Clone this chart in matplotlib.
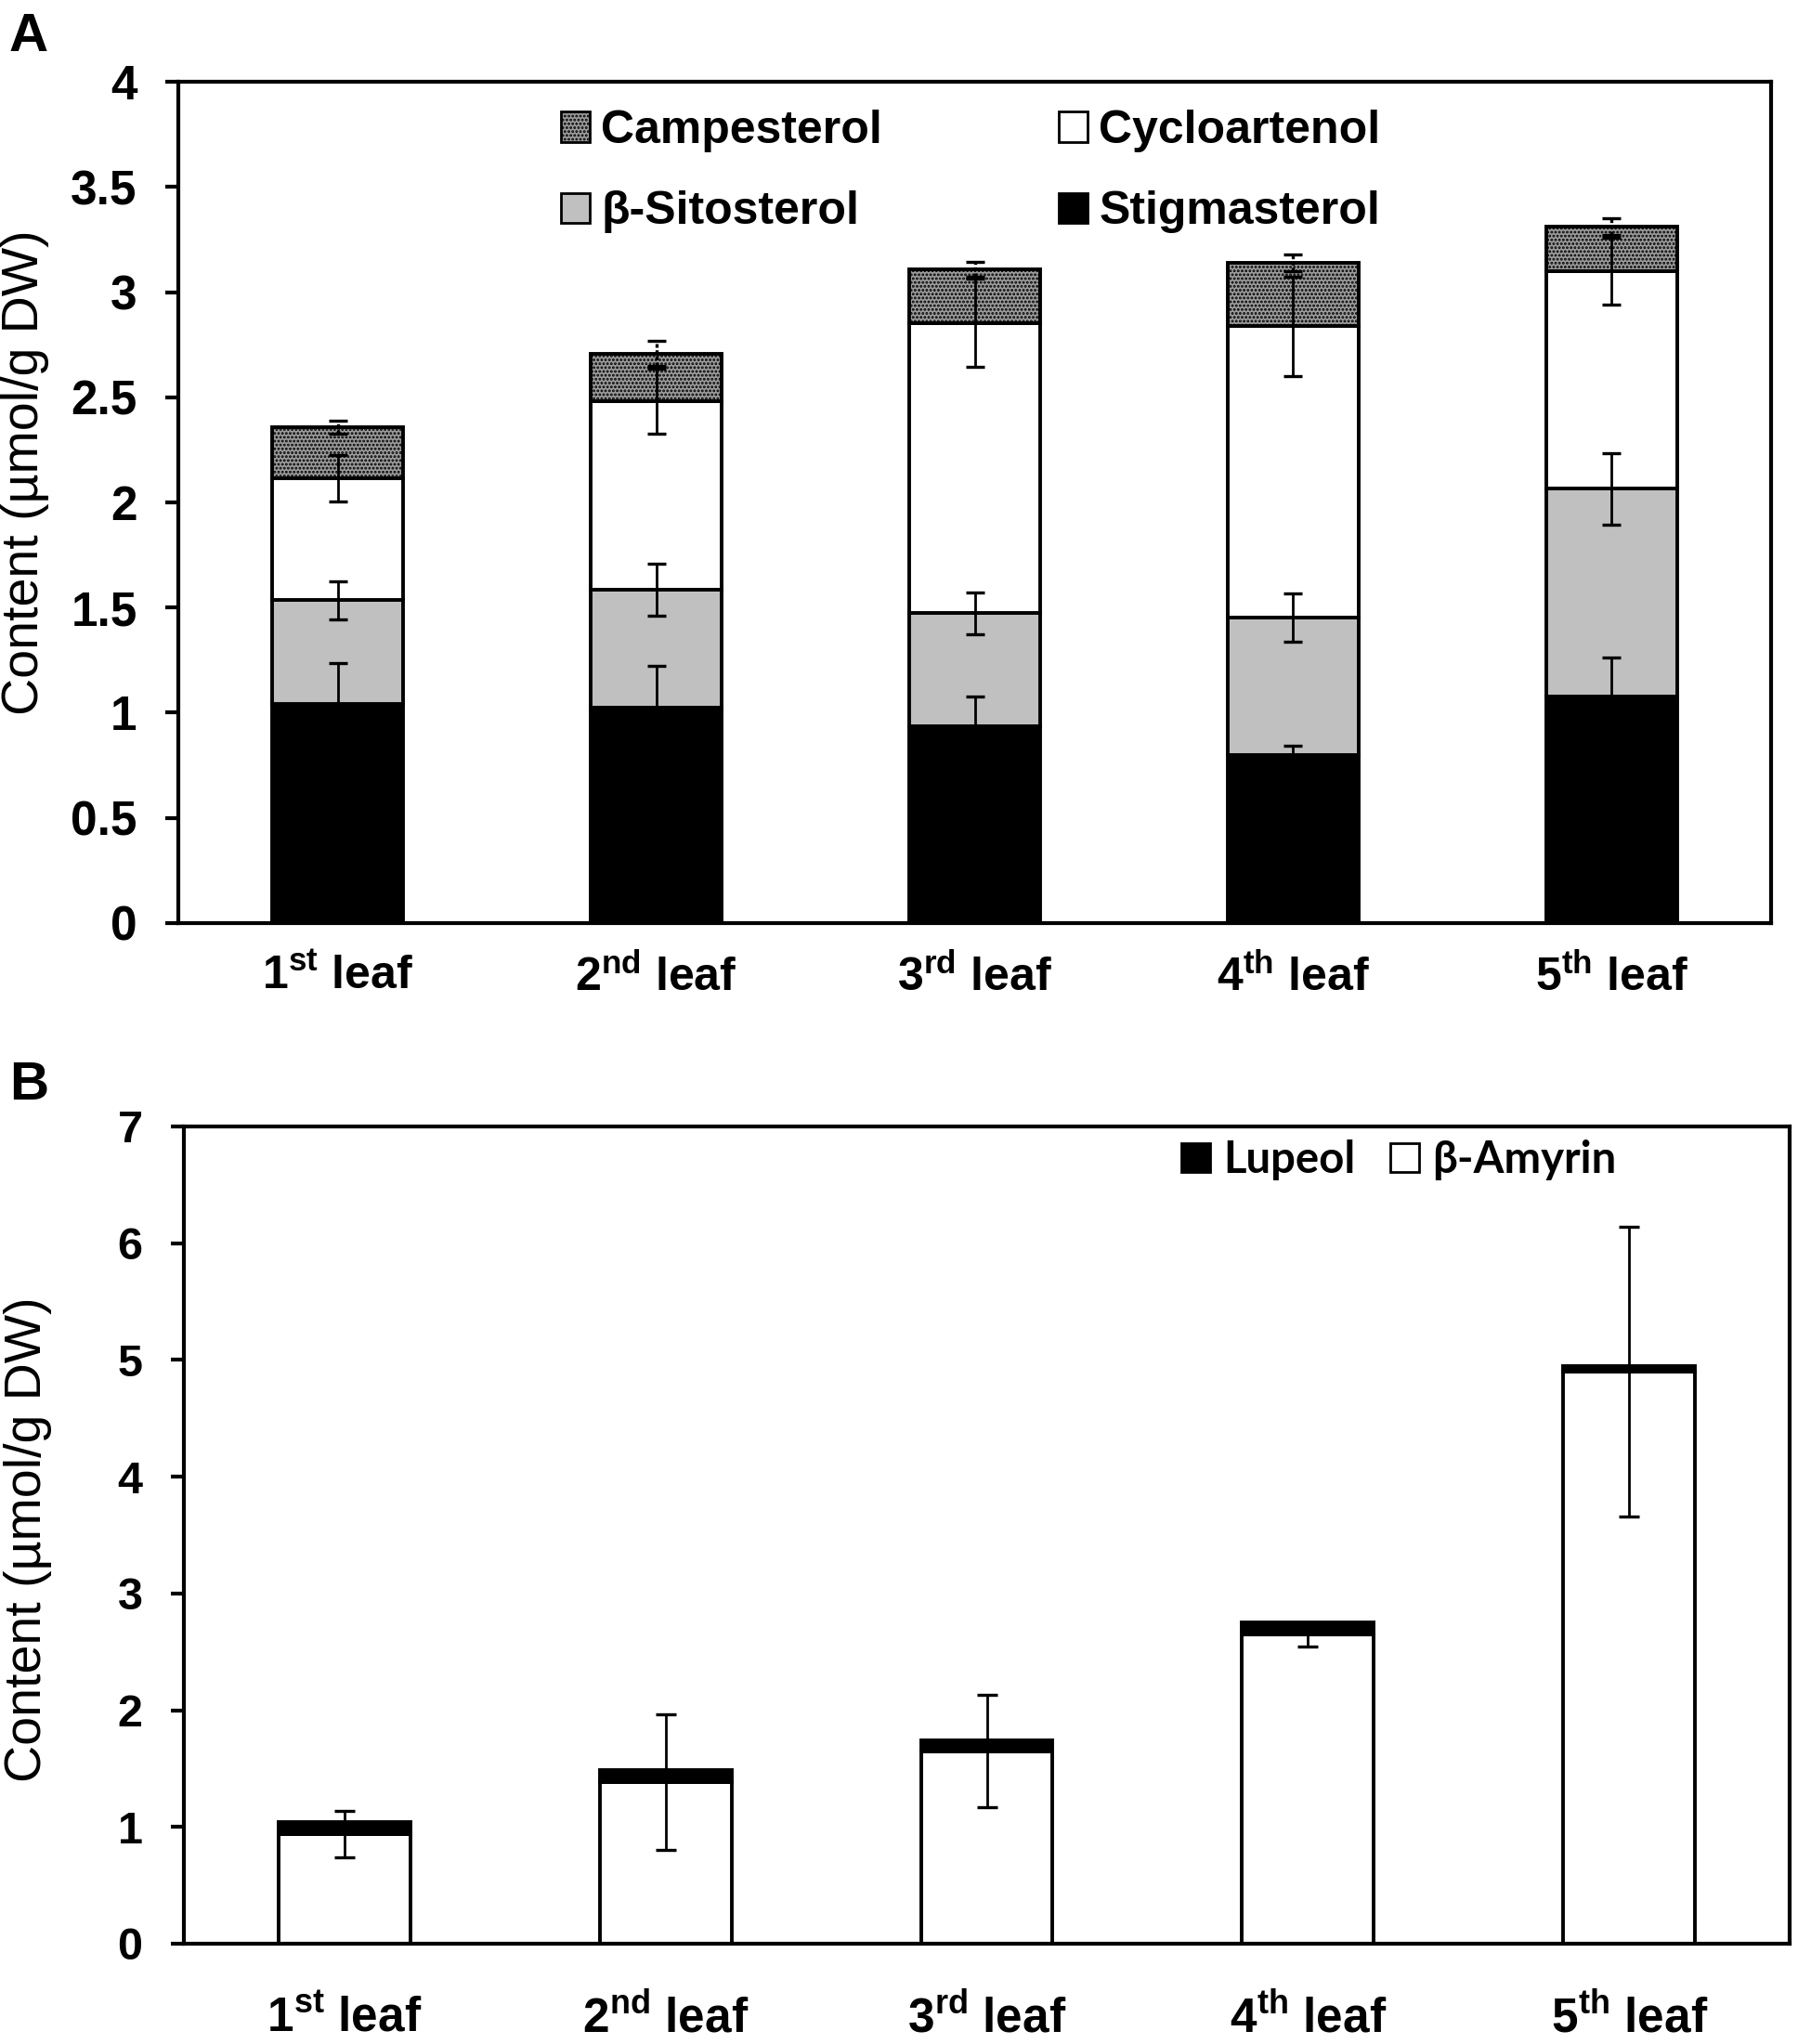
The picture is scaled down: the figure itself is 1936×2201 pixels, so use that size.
import matplotlib
matplotlib.use('Agg')
import matplotlib.pyplot as plt
import numpy as np
from matplotlib.patches import Patch

plt.rcParams['font.family'] = ['Liberation Sans', 'DejaVu Sans']
plt.rcParams['hatch.linewidth'] = 1.4

# ---------------- data ----------------
leaves = [r'1$^{\mathdefault{st}}$ leaf', r'2$^{\mathdefault{nd}}$ leaf',
          r'3$^{\mathdefault{rd}}$ leaf', r'4$^{\mathdefault{th}}$ leaf',
          r'5$^{\mathdefault{th}}$ leaf']

stigmasterol = [1.04, 1.023, 0.936, 0.797, 1.076]
stigmasterol_err = [0.195, 0.20, 0.14, 0.045, 0.186]
sitosterol = [0.495, 0.562, 0.537, 0.657, 0.989]
sitosterol_err = [0.09, 0.125, 0.10, 0.115, 0.17]
cycloartenol = [0.58, 0.895, 1.38, 1.383, 1.035]
cycloartenol_err = [0.11, 0.155, 0.21, 0.235, 0.16]
campesterol = [0.242, 0.227, 0.257, 0.303, 0.21]
campesterol_err = [0.03, 0.06, 0.035, 0.04, 0.04]

amyrin = [0.94, 1.385, 1.65, 2.645, 4.90]
amyrin_err = [0.20, 0.58, 0.48, 0.10, 1.24]
lupeol = [0.105, 0.105, 0.09, 0.11, 0.045]

a_ticks = [0, 0.5, 1, 1.5, 2, 2.5, 3, 3.5, 4]
a_ticklabels = ['0', '0.5', '1', '1.5', '2', '2.5', '3', '3.5', '4']
b_ticks = [0, 1, 2, 3, 4, 5, 6, 7]
b_ticklabels = ['0', '1', '2', '3', '4', '5', '6', '7']

ylabel = 'Content (µmol/g DW)'

# ---------------- figure ----------------
fig = plt.figure(figsize=(19.36, 22.01), dpi=100)
axA = fig.add_axes([0.0992, 0.5484, 0.8858, 0.4116])
axB = fig.add_axes([0.1023, 0.0491, 0.8931, 0.3998])

x = np.arange(len(leaves))
bw = 0.41
elw = 2.8
camp_color = '#9c9c9c'

s1 = np.array(stigmasterol)
s2 = s1 + np.array(sitosterol)
s3 = s2 + np.array(cycloartenol)
s4 = s3 + np.array(campesterol)

axA.bar(x, stigmasterol, width=bw, color='black', edgecolor='black', linewidth=elw, zorder=2)
axA.bar(x, sitosterol, bottom=s1, width=bw, color='#c0c0c0', edgecolor='black', linewidth=elw, zorder=2)
axA.bar(x, cycloartenol, bottom=s2, width=bw, color='white', edgecolor='black', linewidth=elw, zorder=2)
axA.bar(x, campesterol, bottom=s3, width=bw, color=camp_color, edgecolor='black', linewidth=elw,
        hatch='....', zorder=2)

for tops, err in [(s1, stigmasterol_err), (s2, sitosterol_err), (s3, cycloartenol_err)]:
    axA.errorbar(x, tops, yerr=err, fmt='none', ecolor='black', elinewidth=2.0,
                 capsize=7.5, capthick=2.4, zorder=3)
# campesterol error bars look dotted where they cross the patterned segment
ebc = axA.errorbar(x, s4, yerr=campesterol_err, fmt='none', ecolor='black', elinewidth=2.4,
                   capsize=7.5, capthick=2.4, zorder=3)
for lc in ebc[2]:
    lc.set_linestyle((0, (1.2, 0.8)))

axA.set_xlim(-0.5, 4.5)
axA.set_ylim(0, 4)
axA.set_yticks(a_ticks)
axA.set_yticklabels(a_ticklabels, fontsize=37, fontweight='bold')
axA.set_xticks(x)
axA.set_xticklabels(leaves, fontsize=36, fontweight='bold')
axA.tick_params(axis='y', direction='out', length=10, width=3, pad=22)
axA.tick_params(axis='x', length=0, pad=24)
for sp in axA.spines.values():
    sp.set_linewidth(3)
axA.set_ylabel(ylabel, fontsize=40)
axA.yaxis.set_label_coords(-0.081, 0.536)

handlesA = [Patch(facecolor=camp_color, edgecolor='black', hatch='....', linewidth=2),
            Patch(facecolor='#c0c0c0', edgecolor='black', linewidth=2),
            Patch(facecolor='white', edgecolor='black', linewidth=2),
            Patch(facecolor='black', edgecolor='black', linewidth=2)]
labelsA = ['Campesterol', 'β-Sitosterol', 'Cycloartenol', 'Stigmasterol']
axA.legend(handlesA, labelsA, ncol=2, frameon=False, loc='upper left',
           bbox_to_anchor=(0.24, 0.967), borderaxespad=0, borderpad=0,
           prop={'size': 36, 'weight': 'bold'}, handlelength=0.62, handleheight=0.62,
           handletextpad=0.25, columnspacing=3.8, labelspacing=0.83)

# ---------------- panel B ----------------
am = np.array(amyrin)
axB.bar(x, amyrin, width=0.41, color='white', edgecolor='black', linewidth=elw, zorder=2)
axB.bar(x, lupeol, bottom=am, width=0.41, color='black', edgecolor='black', linewidth=elw, zorder=2)
axB.errorbar(x, am, yerr=amyrin_err, fmt='none', ecolor='black', elinewidth=2.0,
             capsize=8, capthick=2.4, zorder=3)

axB.set_xlim(-0.5, 4.5)
axB.set_ylim(0, 7)
axB.set_yticks(b_ticks)
axB.set_yticklabels(b_ticklabels, fontsize=35, fontweight='bold')
axB.set_xticks(x)
axB.set_xticklabels(leaves, fontsize=37, fontweight='bold')
axB.tick_params(axis='y', direction='out', length=10, width=3, pad=22)
axB.tick_params(axis='x', length=0, pad=40)
for sp in axB.spines.values():
    sp.set_linewidth(3)
axB.set_ylabel(ylabel, fontsize=40)
axB.yaxis.set_label_coords(-0.082, 0.495)

handlesB = [Patch(facecolor='black', edgecolor='black', linewidth=2),
            Patch(facecolor='white', edgecolor='black', linewidth=2)]
axB.legend(handlesB, ['Lupeol', 'β-Amyrin'], ncol=2, frameon=False, loc='upper left',
           bbox_to_anchor=(0.621, 0.984), borderaxespad=0, borderpad=0,
           prop={'family': ['Lato', 'DejaVu Sans'], 'size': 34, 'weight': 'bold'},
           handlelength=0.66, handleheight=0.66, handletextpad=0.3, columnspacing=0.8)

fig.text(0.005, 0.994, 'A', fontsize=42, fontweight='bold', va='top', ha='left')
fig.text(0.005, 0.481, 'B', fontsize=42, fontweight='bold', va='top', ha='left')

fig.savefig('out.png', dpi=100)
